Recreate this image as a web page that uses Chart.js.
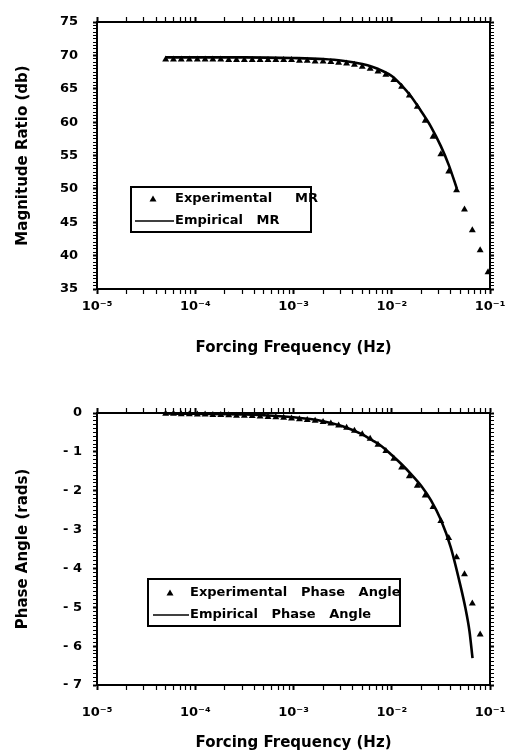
<!DOCTYPE html>
<html>
<head>
<meta charset="utf-8">
<script src="https://cdn.jsdelivr.net/npm/chart.js@4.4.1/dist/chart.umd.min.js"></script>
<style>
  html, body { margin: 0; padding: 0; background: #fff; }
  canvas { display: block; }
</style>
</head>
<body>
<canvas id="magChart" width="506" height="370"></canvas>
<canvas id="phaseChart" width="506" height="384"></canvas>
<script>
// forcing frequencies (Hz) of the measured points
const expFreq = [
  5.0e-5, 6.0e-5, 7.2e-5, 8.7e-5, 1.05e-4, 1.26e-4, 1.51e-4, 1.82e-4, 2.19e-4, 2.63e-4,
  3.16e-4, 3.80e-4, 4.57e-4, 5.50e-4, 6.61e-4, 7.94e-4, 9.55e-4, 1.15e-3, 1.38e-3, 1.66e-3,
  2.00e-3, 2.40e-3, 2.88e-3, 3.47e-3, 4.17e-3, 5.01e-3, 6.03e-3, 7.24e-3, 8.71e-3, 0.0105,
  0.0126, 0.0151, 0.0182, 0.0219, 0.0263, 0.0316, 0.0380, 0.0457, 0.0550, 0.0661,
  0.0794, 0.0955
];
// measured magnitude ratio (db), one per expFreq
const expMagnitude = [
  69.4, 69.4, 69.4, 69.4, 69.4, 69.4, 69.4, 69.4, 69.3, 69.3,
  69.3, 69.3, 69.3, 69.3, 69.3, 69.3, 69.3, 69.2, 69.2, 69.1,
  69.1, 69.0, 68.9, 68.8, 68.6, 68.3, 68.0, 67.6, 67.1, 66.3,
  65.3, 64.0, 62.3, 60.2, 57.8, 55.2, 52.6, 49.8, 46.9, 43.8,
  40.8, 37.5
];
// measured phase angle (rads), first 41 frequencies
const expPhase = [
  -0.02, -0.02, -0.03, -0.03, -0.04, -0.04, -0.05, -0.05, -0.06, -0.07,
  -0.07, -0.08, -0.09, -0.10, -0.11, -0.12, -0.14, -0.16, -0.18, -0.20,
  -0.23, -0.27, -0.32, -0.38, -0.46, -0.55, -0.66, -0.82, -0.98, -1.18,
  -1.40, -1.63, -1.87, -2.12, -2.42, -2.78, -3.22, -3.71, -4.15, -4.90,
  -5.70
];

// empirical model curves
const empMagFreq = [5.0e-5, 3.16e-4, 1.0e-3, 2.0e-3, 3.16e-3, 5.01e-3, 6.31e-3, 7.94e-3,
  0.0100, 0.0126, 0.0158, 0.0200, 0.0251, 0.0316, 0.0380, 0.0461];
const empMagnitude = [69.7, 69.7, 69.6, 69.45, 69.2, 68.7, 68.3, 67.7,
  66.9, 65.5, 63.8, 61.6, 59.3, 56.4, 53.6, 50.0];
const empPhaseFreq = [5.0e-5, 3.16e-4, 1.0e-3, 2.0e-3, 3.16e-3, 5.01e-3, 6.31e-3, 7.94e-3,
  0.0100, 0.0126, 0.0158, 0.0200, 0.0251, 0.0316, 0.0398, 0.0501, 0.0562, 0.0617, 0.0664];
const empPhase = [-0.01, -0.04, -0.11, -0.21, -0.34, -0.55, -0.70, -0.86,
  -1.08, -1.32, -1.58, -1.88, -2.25, -2.75, -3.45, -4.45, -5.02, -5.60, -6.31];

const decadeTicks = [1e-5, 1e-4, 1e-3, 1e-2, 1e-1];
const decadeLabels = ['10⁻⁵', '10⁻⁴', '10⁻³', '10⁻²', '10⁻¹'];

const ink = '#000';
const face = "'DejaVu Sans', 'Liberation Sans', sans-serif";
Chart.defaults.font.family = face;
Chart.defaults.font.weight = 'bold';
Chart.defaults.color = ink;

const toPoints = (xs, ys) => ys.map((y, i) => ({ x: xs[i], y }));
const decadeIndex = v => decadeTicks.findIndex(d => Math.abs(v - d) / d < 1e-6);

// log axis ticks: every decade plus 2..9 minor marks
function logTicks(scale) {
  const ticks = [];
  decadeTicks.forEach((d, i) => {
    ticks.push({ value: d });
    if (i < decadeTicks.length - 1) {
      for (let m = 2; m <= 9; m++) ticks.push({ value: d * m });
    }
  });
  scale.ticks = ticks;
}

function freqAxis(position, size, tickPad, titlePad) {
  const isBottom = position === 'bottom';
  return {
    type: 'logarithmic',
    position,
    min: 1e-5,
    max: 1e-1,
    afterBuildTicks: logTicks,
    // fixed box height, and no extra side padding so the plot edges stay put
    afterFit: s => { s.height = size; s.paddingLeft = 0; s.paddingRight = 0; },
    border: { display: true, color: ink, width: 2 },
    grid: {
      drawOnChartArea: false,
      tickLength: 5,
      tickColor: ink,
      tickWidth: c => (c.tick && decadeIndex(c.tick.value) >= 0 ? 2 : 1.2)
    },
    ticks: {
      display: isBottom,
      autoSkip: false,
      maxRotation: 0,
      padding: tickPad,
      font: { size: 13, weight: 'bold' },
      callback: v => { const i = decadeIndex(v); return i >= 0 ? decadeLabels[i] : ''; }
    },
    title: {
      display: isBottom,
      text: 'Forcing Frequency (Hz)',
      font: { size: 15, weight: 'bold' },
      padding: { top: 0, bottom: titlePad }
    }
  };
}

function valueAxis(position, min, max, step, labelEvery, size, tickPad, title, fmt) {
  const isLeft = position === 'left';
  const isMajor = v => Math.abs(v / labelEvery - Math.round(v / labelEvery)) < 1e-6;
  return {
    type: 'linear',
    position,
    min, max,
    afterFit: s => { s.width = size; s.paddingTop = 0; s.paddingBottom = 0; },
    border: { display: true, color: ink, width: 2 },
    grid: {
      drawOnChartArea: false,
      tickLength: 4,
      tickColor: ink,
      tickWidth: c => (c.tick && isMajor(c.tick.value) ? 2 : 1)
    },
    ticks: {
      display: isLeft,
      stepSize: step,
      maxTicksLimit: 1000,
      autoSkip: false,
      padding: tickPad,
      font: { size: 13, weight: 'bold' },
      callback: v => (isMajor(v) ? fmt(Math.round(v)) : '')
    },
    title: {
      display: isLeft,
      text: title,
      font: { size: 15, weight: 'bold' },
      padding: { top: 14, bottom: 0 }
    }
  };
}

// boxed legend drawn inside the plot area
const boxLegend = {
  id: 'boxLegend',
  afterDatasetsDraw(chart, args, opts) {
    const { ctx, chartArea } = chart;
    const x0 = chartArea.left + opts.left;
    const y0 = chartArea.top + opts.top;
    ctx.save();
    ctx.fillStyle = '#fff';
    ctx.fillRect(x0, y0, opts.width, opts.height);
    ctx.fillStyle = ink;
    ctx.strokeStyle = ink;
    ctx.font = `bold 13px ${face}`;
    ctx.textBaseline = 'middle';
    opts.rows.forEach(row => {
      const ds = chart.data.datasets[row.dataset];
      const y = y0 + row.y;
      if (ds.showLine) {
        ctx.lineWidth = 1.6;
        ctx.beginPath();
        ctx.moveTo(x0 + row.lineFrom, y);
        ctx.lineTo(x0 + row.text - 1, y);
        ctx.stroke();
      } else {
        const mx = x0 + row.marker;
        ctx.beginPath();
        ctx.moveTo(mx, y - 3.5);
        ctx.lineTo(mx + 3.5, y + 2.5);
        ctx.lineTo(mx - 3.5, y + 2.5);
        ctx.closePath();
        ctx.fill();
      }
      ctx.fillText(ds.label, x0 + row.text, y);
    });
    ctx.lineWidth = 2;
    ctx.strokeRect(x0, y0, opts.width, opts.height);
    ctx.restore();
  }
};

function curve(label, xs, ys) {
  return {
    label, data: toPoints(xs, ys), showLine: true, borderColor: ink, borderWidth: 2.6,
    pointRadius: 0, cubicInterpolationMode: 'monotone', order: 0, clip: false
  };
}
function marks(label, xs, ys) {
  return {
    label, data: toPoints(xs, ys), pointStyle: 'triangle', pointRadius: 4,
    backgroundColor: ink, borderColor: ink, borderWidth: 0, order: 1, clip: false
  };
}

new Chart(document.getElementById('magChart'), {
  type: 'scatter',
  data: {
    datasets: [
      curve('Empirical   MR', empMagFreq, empMagnitude),
      marks('Experimental     MR', expFreq, expMagnitude)
    ]
  },
  options: {
    responsive: false,
    animation: false,
    events: [],
    layout: { padding: 0 },
    scales: {
      x: freqAxis('bottom', 81, 5, 13),
      x2: freqAxis('top', 22, 0, 0),
      y: valueAxis('left', 35, 75, 0.5, 5, 97, 15, 'Magnitude Ratio (db)', v => String(v)),
      y2: valueAxis('right', 35, 75, 0.5, 5, 16, 0, '', v => String(v))
    },
    plugins: {
      legend: { display: false },
      tooltip: { enabled: false },
      boxLegend: {
        left: 34, top: 165, width: 180, height: 45,
        rows: [
          { dataset: 1, y: 12, marker: 22, text: 44 },
          { dataset: 0, y: 34, lineFrom: 4, text: 44 }
        ]
      }
    }
  },
  plugins: [boxLegend]
});

new Chart(document.getElementById('phaseChart'), {
  type: 'scatter',
  data: {
    datasets: [
      curve('Empirical   Phase   Angle', empPhaseFreq, empPhase),
      marks('Experimental   Phase   Angle', expFreq.slice(0, expPhase.length), expPhase)
    ]
  },
  options: {
    responsive: false,
    animation: false,
    events: [],
    layout: { padding: 0 },
    scales: {
      x: freqAxis('bottom', 69, 15, 2),
      x2: freqAxis('top', 43, 0, 0),
      y: valueAxis('left', -7, 0, 0.1, 1, 97, 11, 'Phase Angle (rads)',
        v => (v < 0 ? '- ' + Math.abs(v) : String(v))),
      y2: valueAxis('right', -7, 0, 0.1, 1, 16, 0, '', v => String(v))
    },
    plugins: {
      legend: { display: false },
      tooltip: { enabled: false },
      boxLegend: {
        left: 51, top: 166, width: 252, height: 47,
        rows: [
          { dataset: 1, y: 14, marker: 22, text: 42 },
          { dataset: 0, y: 36, lineFrom: 5, text: 42 }
        ]
      }
    }
  },
  plugins: [boxLegend]
});
</script>
</body>
</html>
